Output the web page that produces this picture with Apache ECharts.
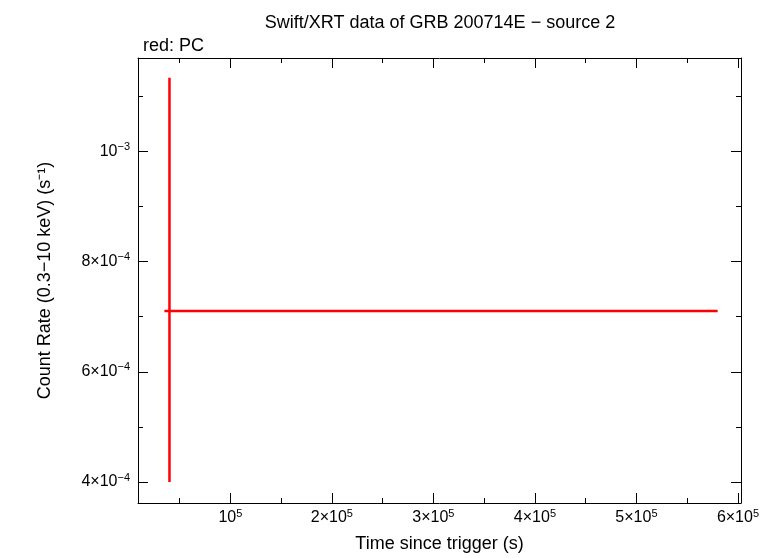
<!DOCTYPE html>
<html>
<head>
<meta charset="utf-8">
<script src="https://cdn.jsdelivr.net/npm/echarts@6/dist/echarts.min.js"></script>
<style>html,body{margin:0;padding:0;background:#fff}#chart{width:778px;height:558px}</style>
</head>
<body>
<div id="chart"></div>
<script>
// PC data (time, rate, errors)
var pcTime = [40000];
var pcTimeLo = [35000];
var pcTimeHi = [580000];
var pcRate = [7.1e-4];
var pcRateLo = [4.0e-4];
var pcRateHi = [1.133e-3];

var xTicks = [100000, 200000, 300000, 400000, 500000, 600000];
var xMinor = [50000, 150000, 250000, 350000, 450000, 550000];
var yTicks = [4e-4, 6e-4, 8e-4, 1e-3];
var yMinor = [5e-4, 7e-4, 9e-4, 1.1e-3];

var font = 'Liberation Sans';
var rich = {
    b: { fontSize: 16, fontFamily: font, color: '#000' },
    s: { fontSize: 11, fontFamily: font, color: '#000', padding: [0, 0, 9, 0] }
};

function xLabel(v) {
    var m = Math.round(v / 1e5);
    return m === 1 ? '{b|10}{s|5}' : '{b|' + m + '×10}{s|5}';
}
function yLabel(v) {
    if (Math.abs(v - 1e-3) < 1e-9) return '{b|10}{s|−3}';
    return '{b|' + Math.round(v * 1e4) + '×10}{s|−4}';
}

var data = pcTime.map(function (t, i) {
    return [t, pcRate[i], pcTimeLo[i], pcTimeHi[i], pcRateLo[i], pcRateHi[i]];
});

var lineStyle = { color: '#000', width: 1 };
function xAxisDef(show, pos, minor) {
    return {
        type: 'value', min: 9000, max: 603000, position: pos,
        axisLine: { show: show, onZero: false, lineStyle: lineStyle },
        splitLine: { show: false },
        axisTick: { show: true, inside: true, length: minor ? 5 : 10, customValues: minor ? xMinor : xTicks, lineStyle: lineStyle },
        axisLabel: { show: pos === 'bottom' && !minor, customValues: xTicks, formatter: xLabel, rich: rich, margin: 5 }
    };
}
function yAxisDef(show, pos, minor) {
    return {
        type: 'value', min: 3.62e-4, max: 1.169e-3, position: pos,
        axisLine: { show: show, onZero: false, lineStyle: lineStyle },
        splitLine: { show: false },
        axisTick: { show: true, inside: true, length: minor ? 5 : 10, customValues: minor ? yMinor : yTicks, lineStyle: lineStyle },
        axisLabel: { show: pos === 'left' && !minor, customValues: yTicks, formatter: yLabel, rich: rich, margin: 8 }
    };
}

var chart = echarts.init(document.getElementById('chart'));
var option = {
    backgroundColor: '#fff',
    animation: false,
    title: [{
        text: 'Swift/XRT data of GRB 200714E − source 2',
        left: 435, top: 9, textAlign: 'center',
        textStyle: { fontSize: 18, fontWeight: 'normal', fontFamily: font, color: '#000' }
    }, {
        text: 'red: PC', left: 138, top: 32,
        textStyle: { fontSize: 18, fontWeight: 'normal', fontFamily: font, color: '#000' }
    }],
    grid: { left: 138, right: 37, top: 58, bottom: 51 },
    xAxis: [
        Object.assign(xAxisDef(true, 'bottom', false), {
            name: 'Time since trigger (s)', nameLocation: 'middle', nameGap: 32,
            nameTextStyle: { fontSize: 18, fontFamily: font, color: '#000' }
        }),
        xAxisDef(false, 'bottom', true),
        xAxisDef(true, 'top', false),
        xAxisDef(false, 'top', true)
    ],
    yAxis: [
        Object.assign(yAxisDef(true, 'left', false), {
            name: 'Count Rate (0.3−10 keV) (s⁻¹)', nameLocation: 'middle', nameGap: 84,
            nameTextStyle: { fontSize: 18, fontFamily: font, color: '#000' }
        }),
        yAxisDef(false, 'left', true),
        yAxisDef(true, 'right', false),
        yAxisDef(false, 'right', true)
    ],
    series: [{
        type: 'custom',
        data: data,
        renderItem: function (params, api) {
            var p = api.coord([api.value(0), api.value(1)]);
            var xl = api.coord([api.value(2), api.value(1)]);
            var xh = api.coord([api.value(3), api.value(1)]);
            var yl = api.coord([api.value(0), api.value(4)]);
            var yh = api.coord([api.value(0), api.value(5)]);
            var st = { stroke: '#ff0000', lineWidth: 2.5 };
            return {
                type: 'group', children: [
                    { type: 'line', shape: { x1: xl[0], y1: p[1], x2: xh[0], y2: p[1] }, style: st },
                    { type: 'line', shape: { x1: p[0], y1: yl[1], x2: p[0], y2: yh[1] }, style: st }
                ]
            };
        }
    }]
};
chart.setOption(option);
</script>
</body>
</html>
